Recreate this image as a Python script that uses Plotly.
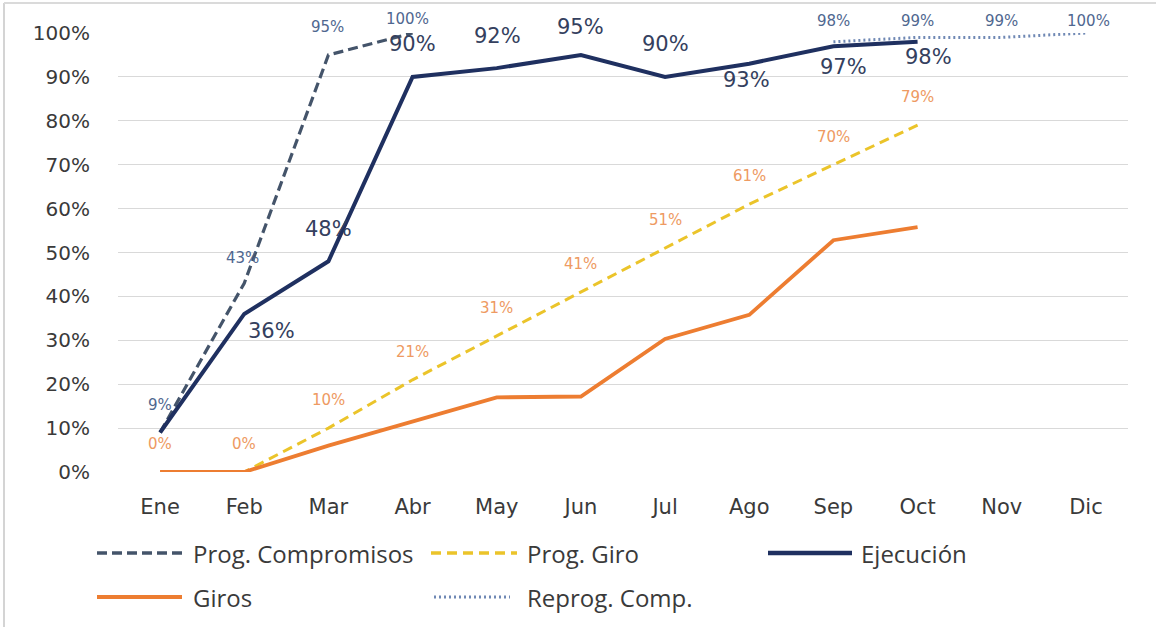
import plotly.graph_objects as go

# Months on the category axis
months = ["Ene", "Feb", "Mar", "Abr", "May", "Jun", "Jul", "Ago", "Sep", "Oct", "Nov", "Dic"]

# Series values (% acumulado)
prog_compromisos = [9, 43, 95, 100]                       # Ene..Abr
prog_giro = [0, 0, 10, 21, 31, 41, 51, 61, 70, 79]         # Ene..Oct
ejecucion = [9, 36, 48, 90, 92, 95, 90, 93, 97, 98]         # Ene..Oct
giros = [0, 0, 6, 11.5, 17, 17.2, 30.3, 35.8, 52.8, 55.8]   # Ene..Oct
reprog_comp = [98, 99, 99, 100]                           # Sep..Dic

y_ticks = [0, 10, 20, 30, 40, 50, 60, 70, 80, 90, 100]
y_tick_labels = [f"{v}%" for v in y_ticks]

# Canvas / plot-area geometry (pixels)
W, H = 1156, 627
PL, PR, PT, PB = 118, 1128, 33, 472

C_PC = "#44546A"
C_PC_TXT = "#4F6790"
C_PG = "#EBC42A"
C_PG_TXT = "#EE9A62"
C_EJ = "#1F3060"
C_EJ_TXT = "#34405E"
C_GI = "#ED7D31"
C_RC = "#6F88B4"

fig = go.Figure()

fig.add_trace(go.Scatter(x=months[:len(prog_compromisos)], y=prog_compromisos, mode="lines",
                         name="Prog. Compromisos", cliponaxis=False,
                         line=dict(color=C_PC, width=3.2, dash="10px,5px")))
fig.add_trace(go.Scatter(x=months[:len(prog_giro)], y=prog_giro, mode="lines",
                         name="Prog. Giro", cliponaxis=False,
                         line=dict(color=C_PG, width=3, dash="10px,6px")))
fig.add_trace(go.Scatter(x=months[:len(giros)], y=giros, mode="lines",
                         name="Giros", cliponaxis=False,
                         line=dict(color=C_GI, width=3.8)))
fig.add_trace(go.Scatter(x=months[:len(ejecucion)], y=ejecucion, mode="lines",
                         name="Ejecución", cliponaxis=False,
                         line=dict(color=C_EJ, width=4)))
fig.add_trace(go.Scatter(x=months[8:8 + len(reprog_comp)], y=reprog_comp, mode="lines",
                         name="Reprog. Comp.", cliponaxis=False,
                         line=dict(color=C_RC, width=3, dash="2px,3px")))

annotations = []


def add_labels(xs, ys, color, size, shifts):
    for x, y, (dx, dy) in zip(xs, ys, shifts):
        if dx is None:
            continue
        annotations.append(dict(x=x, y=y, xref="x", yref="y", text=f"{y:g}%",
                                showarrow=False, xshift=dx, yshift=dy,
                                font=dict(family="DejaVu Sans", size=size, color=color)))


# Data labels, with per-point offsets (px)
add_labels(months, prog_compromisos, C_PC_TXT, 15,
           [(0, 27), (-2, 25), (-1, 28), (-5, 14)])
add_labels(months, prog_giro, C_PG_TXT, 15, [(0, 28)] * len(prog_giro))
add_labels(months, ejecucion, C_EJ_TXT, 21,
           [(None, None), (27, -17), (0, 32), (0, 33), (1, 32), (0, 28),
            (0, 33), (-3, -16), (10, -21), (11, -15)])
add_labels(months[8:], reprog_comp, C_PC_TXT, 15,
           [(0, 21), (0, 16), (0, 16), (3, 12)])


def px_x(px):
    return (px - PL) / (PR - PL)


def px_y(py):
    return (PB - py) / (PB - PT)


shapes = []
# Chart frame (left and top edges)
shapes.append(dict(type="line", xref="paper", yref="paper", x0=px_x(4), x1=px_x(4),
                   y0=px_y(3), y1=px_y(H + 5), line=dict(color="#D4D4D4", width=2)))
shapes.append(dict(type="line", xref="paper", yref="paper", x0=px_x(4), x1=px_x(W + 5),
                   y0=px_y(3), y1=px_y(3), line=dict(color="#DADADA", width=2)))

# Legend: (label, color, width, dash, line x0, line x1, text x, row y)
legend_items = [
    ("Prog. Compromisos", C_PC, 3.5, "10px,5px", 97, 183, 191, 553),
    ("Prog. Giro", C_PG, 3.5, "10px,6px", 431, 517, 525, 553),
    ("Ejecución", C_EJ, 4.5, "solid", 768, 852, 859, 553),
    ("Giros", C_GI, 4, "solid", 97, 182, 191, 597),
    ("Reprog. Comp.", C_RC, 3, "2px,3px", 434, 510, 525, 597),
]
for label, color, width, dash, lx0, lx1, tx, ry in legend_items:
    shapes.append(dict(type="line", xref="paper", yref="paper",
                       x0=px_x(lx0), x1=px_x(lx1), y0=px_y(ry), y1=px_y(ry),
                       line=dict(color=color, width=width, dash=dash)))
    annotations.append(dict(x=px_x(tx), y=px_y(ry), xref="paper", yref="paper",
                            text=label, showarrow=False, xanchor="left", yanchor="middle",
                            font=dict(family="Open Sans", size=24, color="#3A3A3A")))

fig.update_layout(
    width=W, height=H,
    margin=dict(l=PL, r=W - PR, t=PT, b=H - PB),
    paper_bgcolor="white", plot_bgcolor="white",
    showlegend=False,
    annotations=annotations,
    shapes=shapes,
    xaxis=dict(type="category", categoryarray=months, categoryorder="array",
               range=[-0.5, len(months) - 0.5], showgrid=False, showline=False,
               zeroline=False, ticks="", ticklabelstandoff=20,
               tickfont=dict(family="DejaVu Sans", size=21, color="#3A3A3A")),
    yaxis=dict(range=[0, 100], tickvals=y_ticks, ticktext=y_tick_labels,
               showgrid=True, gridcolor="#D9D9D9", gridwidth=1, zeroline=False,
               showline=False, ticks="", ticklabelstandoff=27,
               tickfont=dict(family="DejaVu Sans", size=20, color="#3A3A3A")),
)

fig.write_html("out.html")
